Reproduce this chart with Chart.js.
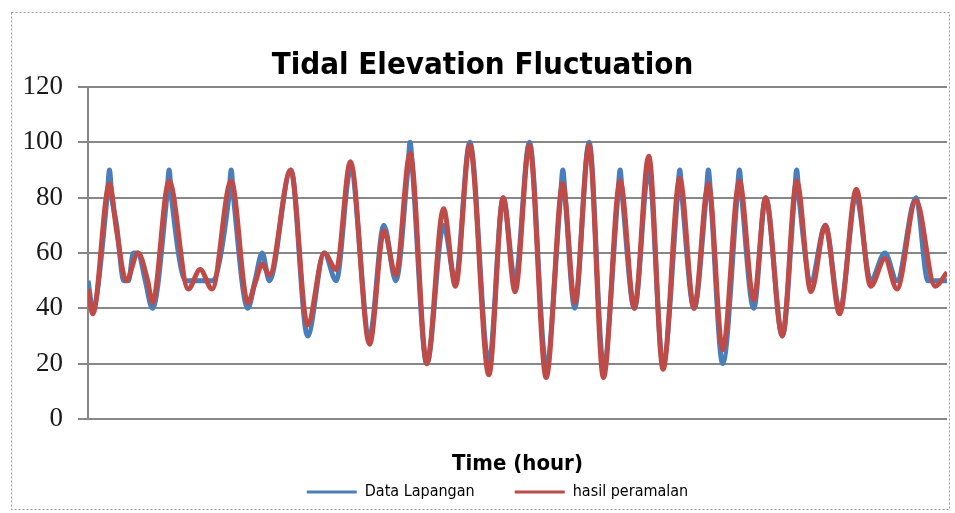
<!DOCTYPE html>
<html>
<head>
<meta charset="utf-8">
<script src="https://cdn.jsdelivr.net/npm/chart.js@4/dist/chart.umd.min.js"></script>
<style>
  body { margin: 0; background: #fff; }
  #wrap { width: 955px; height: 513px; position: relative; }
</style>
</head>
<body>
<div id="wrap"><canvas id="chart"></canvas></div>
<script>
const dataHours = [0,2,8,9,10,12,15,17,19,21,24,27,33,34,35,41,52,59,60,61,67,70,73,76,85,92,99,104,110,118,124,129,134,135,136,142,149,154,160,168,174,179,185,192,198,199,200,204,210,216,222,223,224,229,235,241,247,248,249,254,259,260,261,266,272,273,274,279,284,291,296,297,298,303,309,315,322,328,334,339,347,352,360]
const dataLevel = [50,40,80,90,80,70,50,50,60,60,50,40,80,90,80,50,50,80,90,80,40,50,60,50,90,30,60,50,90,30,70,50,90,100,90,20,70,50,100,20,80,50,100,20,80,90,80,40,100,20,80,90,80,40,90,20,80,90,80,40,80,90,80,20,80,90,80,40,80,30,80,90,80,50,70,40,80,50,60,50,80,50,50]

// forecast
const fcHours = [0,2,9,12,16,21,25,27,34,42,47,52,60,67,70,73,76,85,92,99,104,110,118,124,129,135,142,149,154,160,168,174,179,185,192,199,204,210,216,223,229,235,241,248,254,260,266,273,279,284,291,297,303,309,315,322,328,334,339,347,355,360]
const fcLevel = [47,38,85,68,50,60,50,42,86,47,54,47,86,42,49,56,52,90,34,60,54,93,27,68,52,96,20,76,48,99,16,80,46,99,15,85,42,99,15,86,40,95,18,87,40,85,25,86,43,80,30,86,46,70,38,83,48,58,47,79,48,53]

const yTicks = [0, 20, 40, 60, 80, 100, 120]

const BLUE = '#4a7ebb'
const RED = '#be4b48'
const NARROW = '"Liberation Sans Narrow", "DejaVu Sans Condensed", sans-serif'

// dotted frame around the whole chart, legend nudged right like the original
const frame = {
  id: 'frame',
  afterLayout(chart) {
    chart.legend.left += 15
    chart.legend.right += 15
  },
  beforeDraw(chart) {
    const ctx = chart.ctx
    ctx.save()
    ctx.strokeStyle = '#9a9a9a'
    ctx.lineWidth = 1
    ctx.setLineDash([2, 2])
    ctx.strokeRect(11.5, 12.5, 938, 497)
    ctx.restore()
  }
}

new Chart(document.getElementById('chart'), {
  type: 'line',
  data: {
    datasets: [
      {
        label: 'Data Lapangan',
        data: dataHours.map((h, i) => ({x: h, y: dataLevel[i]})),
        borderColor: BLUE,
        backgroundColor: BLUE,
        borderWidth: 5,
        pointRadius: 0,
        cubicInterpolationMode: 'monotone',
        order: 1
      },
      {
        label: 'hasil peramalan',
        data: fcHours.map((h, i) => ({x: h, y: fcLevel[i]})),
        borderColor: RED,
        backgroundColor: RED,
        borderWidth: 5,
        pointRadius: 0,
        cubicInterpolationMode: 'monotone',
        order: 0
      }
    ]
  },
  options: {
    responsive: true,
    maintainAspectRatio: false,
    animation: false,
    layout: { padding: { top: 4, left: 18, right: 8, bottom: 3 } },
    plugins: {
      title: {
        display: true,
        text: 'Tidal Elevation Fluctuation',
        color: '#000',
        font: { family: NARROW, size: 31, weight: 'bold', lineHeight: 1.2 },
        padding: { top: 43, bottom: 2.8 }
      },
      legend: {
        position: 'bottom',
        labels: {
          boxWidth: 50,
          boxHeight: 3,
          padding: 40,
          color: '#000',
          font: { family: NARROW, size: 16 },
          sort: (a, b) => a.datasetIndex - b.datasetIndex,
          generateLabels: chart => Chart.defaults.plugins.legend.labels.generateLabels(chart).map(l => ({...l, lineWidth: 0}))
        }
      },
      tooltip: { enabled: false }
    },
    scales: {
      x: {
        type: 'linear',
        min: 0,
        max: 360,
        ticks: { display: false },
        grid: { display: false, drawTicks: false },
        border: { display: false },
        title: {
          display: true,
          text: 'Time (hour)',
          color: '#000',
          font: { family: NARROW, size: 22, weight: 'bold', lineHeight: 1 },
          padding: { top: 0, bottom: -31 }
        },
        afterFit(scale) { scale.height = 25 }
      },
      y: {
        min: 0,
        max: 120,
        afterBuildTicks(scale) { scale.ticks = yTicks.map(v => ({value: v})) },
        ticks: {
          padding: 15,
          color: '#1a1a1a',
          font: { family: '"Liberation Serif", serif', size: 27 }
        },
        grid: { color: '#878787', lineWidth: 2, tickLength: 10 },
        border: { display: true, color: '#878787', width: 2 },
        afterFit(scale) { scale.width = 70 }
      }
    }
  },
  plugins: [frame]
})
</script>
</body>
</html>
